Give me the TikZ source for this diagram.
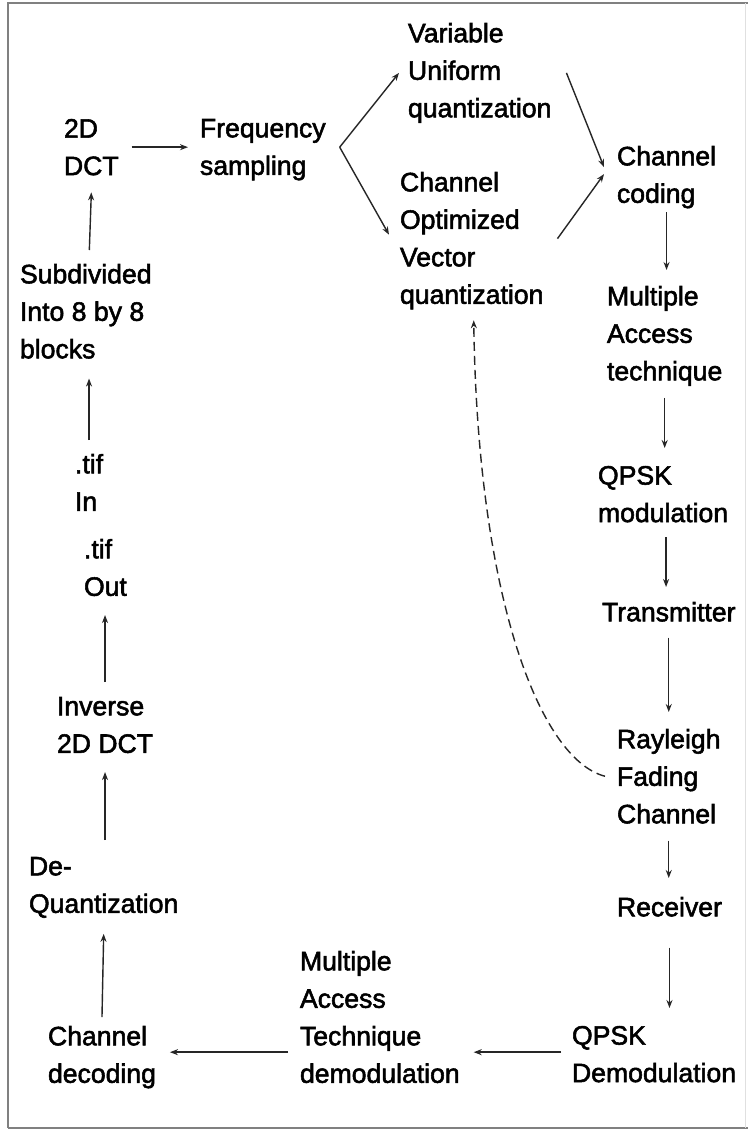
\documentclass[tikz,border=0pt]{standalone}
\usepackage{fontspec}
\setmainfont{Liberation Sans}[FakeBold=2]
\usetikzlibrary{arrows.meta}
\begin{document}
\begin{tikzpicture}[x=1pt,y=-1pt,
  lbl/.style={anchor=north west,inner sep=0pt,outer sep=0pt,align=left,
    font=\fontsize{26.6}{37.5}\selectfont,text=black},
  lnk/.style={line width=1.4pt,draw=black!85},
  arr/.style={lnk,-{Stealth[length=8pt,width=6pt]}},
  dsh/.style={arr,dash pattern=on 9pt off 5pt}]
\useasboundingbox (0,0) rectangle (748,1130);
\fill[white] (0,0) rectangle (748,1130);
% frame
\draw[line width=2.5pt,draw=black!50] (8,1128) -- (8,3) -- (748,3);
\draw[line width=2.5pt,draw=black!50] (8,1128) -- (748,1128);
\draw[line width=1pt,draw=black!12] (745,3) -- (745,1128);
% nodes
\node[lbl] (dct) at (64,119) {2D\\DCT};
\node[lbl] (freq) at (200,119) {Frequency\\sampling};
\node[lbl] (vuq) at (408,23) {Variable\\Uniform\\quantization};
\node[lbl] (covq) at (400,172) {Channel\\Optimized\\Vector\\quantization};
\node[lbl] (cc) at (617,146) {Channel\\coding};
\node[lbl] (mat) at (607,286) {Multiple\\Access\\technique};
\node[lbl] (qmod) at (598,466) {QPSK\\modulation};
\node[lbl] (tx) at (602,602) {Transmitter};
\node[lbl] (ray) at (617,729) {Rayleigh\\Fading\\Channel};
\node[lbl] (rx) at (617,897) {Receiver};
\node[lbl] (qdem) at (572,1026) {QPSK\\Demodulation};
\node[lbl] (matd) at (300,951) {Multiple\\Access\\Technique\\demodulation};
\node[lbl] (cdec) at (48,1026) {Channel\\decoding};
\node[lbl] (deq) at (29,857) {De-\\Quantization};
\node[lbl] (inv) at (57,697) {Inverse\\2D DCT};
\node[lbl] (tifout) at (84,539) {.tif\\Out};
\node[lbl] (tifin) at (75,454) {.tif\\In};
\node[lbl] (sub) at (20,264) {Subdivided\\Into 8 by 8\\blocks};
% connectors
\draw[arr] ([xshift=13pt]dct.east) -- ([xshift=-12pt]freq.west |- dct.east);
\coordinate (fork) at ([xshift=14pt]freq.east |- dct.east);
\draw[arr] (fork) -- ([xshift=-9pt]vuq.west);
\draw[arr] (fork) -- ([xshift=-11pt,yshift=6pt]covq.west);
\draw[arr] ([xshift=15pt]vuq.east) -- ([xshift=-13pt,yshift=10pt]cc.west);
\draw[arr] ([xshift=14pt,yshift=2pt]covq.east) -- ([xshift=-13pt,yshift=3pt]cc.west);
\draw[arr] ([yshift=-4pt]cc.south) -- ([yshift=16pt]cc.south |- mat.north);
\draw[arr] ([yshift=-12pt]mat.south) -- ([yshift=18pt]mat.south |- qmod.north);
\draw[arr] ([xshift=3pt,yshift=-15pt]qmod.south) -- ([xshift=3pt,yshift=15pt]qmod.south |- tx.north);
\draw[arr] ([yshift=-16pt]tx.south) -- ([yshift=17pt]tx.south |- ray.north);
\draw[arr] ([yshift=-17pt]ray.south) -- ([yshift=19pt]ray.south |- rx.north);
\draw[arr] ([yshift=-31pt]rx.south) -- ([yshift=18pt]rx.south |- qdem.north);
\draw[arr] ([xshift=-11pt,yshift=2pt]qdem.west) -- ([xshift=14pt,yshift=2pt]matd.east |- qdem.west);
\draw[arr] ([xshift=-12pt,yshift=2pt]matd.west |- qdem.west) -- ([xshift=14pt,yshift=2pt]cdec.east |- qdem.west);
\draw[arr] ([yshift=9pt]cdec.north) -- ([yshift=-16pt]deq.south);
\draw[arr] ([yshift=17pt]deq.north -| inv.south) -- ([yshift=-19pt]inv.south);
\draw[arr] ([yshift=15pt]inv.north) -- ([yshift=-19pt]inv.north |- tifout.south);
\draw[arr] ([yshift=14pt]tifin.north) -- ([yshift=-20pt]tifin.north |- sub.south);
\draw[arr] ([xshift=-2pt,yshift=14pt]sub.north -| dct.south) -- ([yshift=-17pt]dct.south);
\draw[dsh] ([xshift=-12pt]ray.west) .. controls +(-65,-17) and +(4,278) .. ([xshift=2pt,yshift=-11pt]covq.south);
\end{tikzpicture}
\end{document}
